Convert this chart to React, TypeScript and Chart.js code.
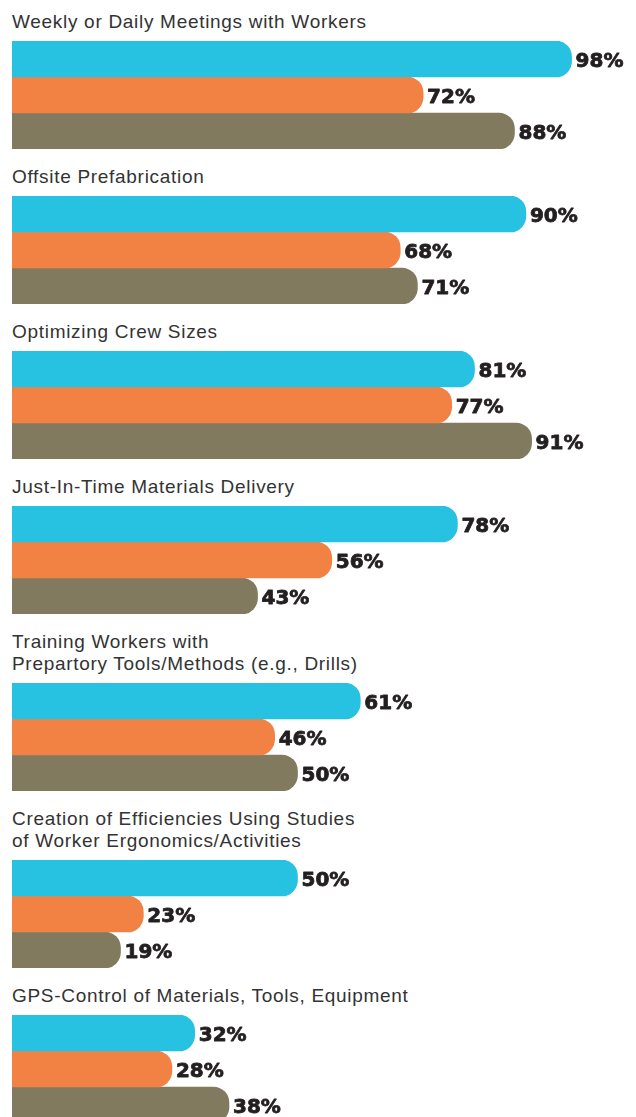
import React, { useEffect, useRef } from "react";
import { Chart, registerables } from "chart.js";

Chart.register(...registerables);

const categories: string[][] = [
  ["Weekly or Daily Meetings with Workers"],
  ["Offsite Prefabrication"],
  ["Optimizing Crew Sizes"],
  ["Just-In-Time Materials Delivery"],
  ["Training Workers with", "Prepartory Tools/Methods (e.g., Drills)"],
  ["Creation of Efficiencies Using Studies", "of Worker Ergonomics/Activities"],
  ["GPS-Control of Materials, Tools, Equipment"],
];
const seriesNames = ["Series 1", "Series 2", "Series 3"];
const series1 = [98, 90, 81, 78, 61, 50, 32];
const series2 = [72, 68, 77, 56, 46, 23, 28];
const series3 = [88, 71, 91, 43, 50, 19, 38];
const seriesColors = ["#27C1E1", "#F28244", "#827A5E"];

const valueLabels = {
  id: "valueLabels",
  afterDatasetsDraw(chart: any) {
    const { ctx } = chart;
    ctx.save();
    ctx.font = "bold 20px 'DejaVu Sans'";
    ctx.fillStyle = "#231f20";
    ctx.strokeStyle = "#231f20";
    ctx.lineWidth = 0.8;
    ctx.lineJoin = "round";
    ctx.textBaseline = "alphabetic";
    ctx.textAlign = "left";
    chart.data.datasets.forEach((ds: any, i: number) => {
      chart.getDatasetMeta(i).data.forEach((el: any, j: number) => {
        const t = ds.data[j] + "%";
        ctx.fillText(t, el.x + 4, el.y + 8);
        ctx.strokeText(t, el.x + 4, el.y + 8);
      });
    });
    ctx.restore();
  },
};

function GroupChart({ index }: { index: number }) {
  const ref = useRef<HTMLCanvasElement>(null);
  useEffect(() => {
    const values = [series1, series2, series3];
    const chart = new Chart(ref.current as HTMLCanvasElement, {
      type: "bar",
      data: {
        labels: [categories[index].join(" ")],
        datasets: values.map((v, s) => ({
          label: seriesNames[s],
          data: [v[index]],
          backgroundColor: seriesColors[s],
          borderRadius: 16,
          borderSkipped: "start",
          barPercentage: 1,
          categoryPercentage: 1,
        })),
      },
      options: {
        indexAxis: "y",
        animation: false,
        responsive: true,
        maintainAspectRatio: false,
        layout: { padding: { left: 0, right: 45, top: 0, bottom: 0 } },
        scales: {
          x: { display: false, min: 0, max: 100 },
          y: { display: false },
        },
        plugins: { legend: { display: false }, tooltip: { enabled: false } },
      },
      plugins: [valueLabels],
    } as any);
    return () => chart.destroy();
  }, [index]);
  return (
    <div style={{ position: "relative", height: 108 }}>
      <canvas ref={ref} />
    </div>
  );
}

export default function App() {
  return (
    <div style={{ paddingLeft: 4 }}>
      {categories.map((lines, i) => (
        <div key={i} style={{ marginTop: i === 0 ? 0 : 14 }}>
          <div
            style={{
              fontFamily: "'Liberation Sans', Arial, sans-serif",
              fontSize: 19,
              lineHeight: "22px",
              letterSpacing: "0.7px",
              color: "#333333",
              paddingTop: 3,
              paddingBottom: 8,
            }}
          >
            {lines.map((l, k) => (
              <div key={k}>{l}</div>
            ))}
          </div>
          <GroupChart index={i} />
        </div>
      ))}
    </div>
  );
}
